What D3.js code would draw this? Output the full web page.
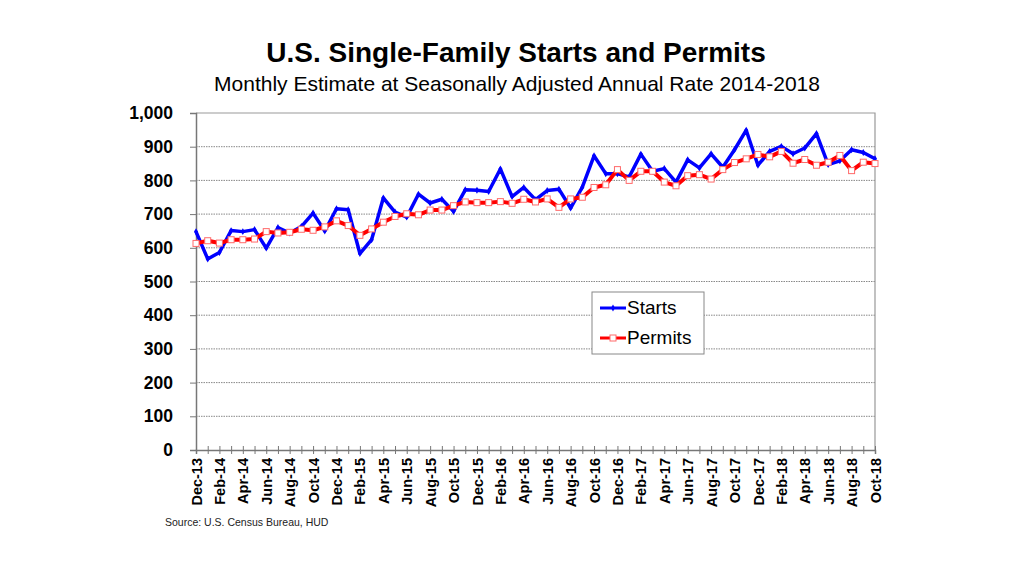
<!DOCTYPE html>
<html lang="en">
<head>
    <meta charset="UTF-8">
    <title>U.S. Single-Family Starts and Permits</title>
    <script src="https://cdn.jsdelivr.net/npm/d3@7"></script>
    <style>
        body { margin: 0; background: #fff; }
        #chart { width: 1024px; height: 576px; }
        text { font-family: "Liberation Sans", Arial, sans-serif; }
    </style>
</head>
<body>
<div id="chart"></div>
<script type="text/javascript">
    var months = [
        'Dec-13', 'Jan-14', 'Feb-14', 'Mar-14', 'Apr-14', 'May-14', 'Jun-14', 'Jul-14', 'Aug-14', 'Sep-14', 'Oct-14', 'Nov-14',
        'Dec-14', 'Jan-15', 'Feb-15', 'Mar-15', 'Apr-15', 'May-15', 'Jun-15', 'Jul-15', 'Aug-15', 'Sep-15', 'Oct-15', 'Nov-15',
        'Dec-15', 'Jan-16', 'Feb-16', 'Mar-16', 'Apr-16', 'May-16', 'Jun-16', 'Jul-16', 'Aug-16', 'Sep-16', 'Oct-16', 'Nov-16',
        'Dec-16', 'Jan-17', 'Feb-17', 'Mar-17', 'Apr-17', 'May-17', 'Jun-17', 'Jul-17', 'Aug-17', 'Sep-17', 'Oct-17', 'Nov-17',
        'Dec-17', 'Jan-18', 'Feb-18', 'Mar-18', 'Apr-18', 'May-18', 'Jun-18', 'Jul-18', 'Aug-18', 'Sep-18', 'Oct-18'
    ];
    // thousands of units, SAAR
    var starts = [
        648, 567, 586, 651, 648, 654, 599, 660, 644, 663, 703, 650,
        716, 713, 583, 624, 748, 706, 691, 759, 733, 744, 708, 772,
        771, 767, 834, 752, 779, 743, 770, 774, 718, 780, 873, 820,
        820, 810, 878, 827, 835, 795, 861, 837, 879, 839, 891, 949,
        845, 886, 901, 879, 896, 939, 847, 858, 891, 883, 864
    ];
    var permits = [
        613, 621, 614, 624, 624, 626, 648, 644, 646, 655, 652, 662,
        680, 666, 637, 656, 676, 693, 701, 698, 712, 712, 725, 736,
        734, 734, 737, 732, 744, 736, 745, 720, 745, 750, 779, 787,
        832, 800, 827, 827, 795, 784, 814, 817, 804, 832, 853, 864,
        877, 870, 886, 851, 862, 845, 854, 874, 829, 854, 850
    ];
    var yTicks = [0, 100, 200, 300, 400, 500, 600, 700, 800, 900, 1000];

    var svgw = 1024, svgh = 576;
    var plotL = 196, plotR = 875, plotT = 113, plotB = 450;

    var svg = d3.select('#chart')
        .append('svg')
        .attr('width', svgw)
        .attr('height', svgh);

    var x_scale = d3.scalePoint()
        .domain(months)
        .range([plotL, plotR]);

    var y_scale = d3.scaleLinear()
        .domain([0, 1000])
        .range([plotB, plotT]);

    // titles
    svg.append('text')
        .attr('x', 516).attr('y', 62)
        .attr('text-anchor', 'middle')
        .attr('font-size', 28).attr('font-weight', 'bold')
        .text('U.S. Single-Family Starts and Permits');
    svg.append('text')
        .attr('x', 517).attr('y', 91)
        .attr('text-anchor', 'middle')
        .attr('font-size', 21)
        .text('Monthly Estimate at Seasonally Adjusted Annual Rate 2014-2018');

    // grid
    svg.append('g')
        .selectAll('line')
        .data(yTicks.slice(1, -1))
        .enter()
        .append('line')
        .attr('x1', plotL).attr('x2', plotR)
        .attr('y1', function (d) { return y_scale(d) })
        .attr('y2', function (d) { return y_scale(d) })
        .attr('stroke', '#888')
        .attr('stroke-width', 1)
        .attr('stroke-dasharray', '1.5,1');

    // plot frame (top and right)
    svg.append('path')
        .attr('d', 'M' + plotL + ',' + y_scale(1000) + 'H' + plotR + 'V' + plotB)
        .attr('fill', 'none')
        .attr('stroke', '#999')
        .attr('stroke-width', 1.2);

    // y axis
    var y_axis = d3.axisLeft(y_scale)
        .tickValues(yTicks)
        .tickSize(6)
        .tickPadding(17)
        .tickFormat(d3.format(','));
    var gy = svg.append('g')
        .attr('transform', 'translate(' + plotL + ',0)')
        .call(y_axis);
    gy.select('.domain').attr('stroke', '#777').attr('stroke-width', 1.5);
    gy.selectAll('.tick line').attr('stroke', '#777');
    gy.selectAll('text')
        .attr('font-family', '"Liberation Sans", Arial, sans-serif')
        .attr('font-size', 17.5)
        .attr('font-weight', 'bold')
        .attr('fill', '#000');

    // x axis
    var x_axis = d3.axisBottom(x_scale)
        .tickSize(4)
        .tickFormat(function (d, i) { return i % 2 === 0 ? d : '' });
    var gx = svg.append('g')
        .attr('transform', 'translate(0,' + plotB + ')')
        .call(x_axis);
    gx.select('.domain').attr('stroke', '#777').attr('stroke-width', 1.5);
    gx.selectAll('.tick line').attr('y1', -4).attr('stroke', '#777');
    gx.selectAll('text')
        .attr('font-family', '"Liberation Sans", Arial, sans-serif')
        .attr('font-size', 14.5)
        .attr('font-weight', 'bold')
        .attr('fill', '#000')
        .attr('transform', 'rotate(-90)')
        .attr('text-anchor', 'end')
        .attr('x', -8)
        .attr('y', 0)
        .attr('dy', '0.35em');

    // lines
    var line = d3.line()
        .x(function (d, i) { return x_scale(months[i]) })
        .y(function (d) { return y_scale(d) });

    svg.append('path')
        .datum(starts)
        .attr('d', line)
        .attr('fill', 'none')
        .attr('stroke', '#0000ff')
        .attr('stroke-width', 3.5)
        .attr('stroke-linejoin', 'round');

    svg.append('g')
        .selectAll('path')
        .data(starts)
        .enter()
        .append('path')
        .attr('d', d3.symbol().type(d3.symbolDiamond).size(14))
        .attr('transform', function (d, i) {
            return 'translate(' + x_scale(months[i]) + ',' + y_scale(d) + ')'
        })
        .attr('fill', '#0000ff');

    svg.append('path')
        .datum(permits)
        .attr('d', line)
        .attr('fill', 'none')
        .attr('stroke', '#ff0000')
        .attr('stroke-width', 4)
        .attr('stroke-linejoin', 'round');

    svg.append('g')
        .selectAll('rect')
        .data(permits)
        .enter()
        .append('rect')
        .attr('x', function (d, i) { return x_scale(months[i]) - 3 })
        .attr('y', function (d) { return y_scale(d) - 3 })
        .attr('width', 6)
        .attr('height', 6)
        .attr('fill', '#fff')
        .attr('stroke', '#ff6a6a')
        .attr('stroke-width', 1);

    // legend
    var lg = svg.append('g').attr('transform', 'translate(592,292)');
    lg.append('rect')
        .attr('width', 112).attr('height', 62)
        .attr('fill', '#fff')
        .attr('stroke', '#888')
        .attr('stroke-width', 1);
    lg.append('line')
        .attr('x1', 8).attr('x2', 34).attr('y1', 16).attr('y2', 16)
        .attr('stroke', '#0000ff').attr('stroke-width', 3);
    lg.append('path')
        .attr('d', d3.symbol().type(d3.symbolDiamond).size(14))
        .attr('transform', 'translate(21,16)')
        .attr('fill', '#0000ff');
    lg.append('text')
        .attr('x', 35).attr('y', 22)
        .attr('font-size', 19)
        .text('Starts');
    lg.append('line')
        .attr('x1', 8).attr('x2', 34).attr('y1', 46).attr('y2', 46)
        .attr('stroke', '#ff0000').attr('stroke-width', 3);
    lg.append('rect')
        .attr('x', 18).attr('y', 43).attr('width', 6).attr('height', 6)
        .attr('fill', '#fff').attr('stroke', '#ff6a6a').attr('stroke-width', 1);
    lg.append('text')
        .attr('x', 35).attr('y', 52)
        .attr('font-size', 19)
        .text('Permits');

    // source
    svg.append('text')
        .attr('x', 165).attr('y', 526)
        .attr('font-family', '"Open Sans", sans-serif')
        .attr('font-size', 10.5)
        .attr('fill', '#222')
        .text('Source:  U.S. Census Bureau, HUD');
</script>
</body>
</html>
